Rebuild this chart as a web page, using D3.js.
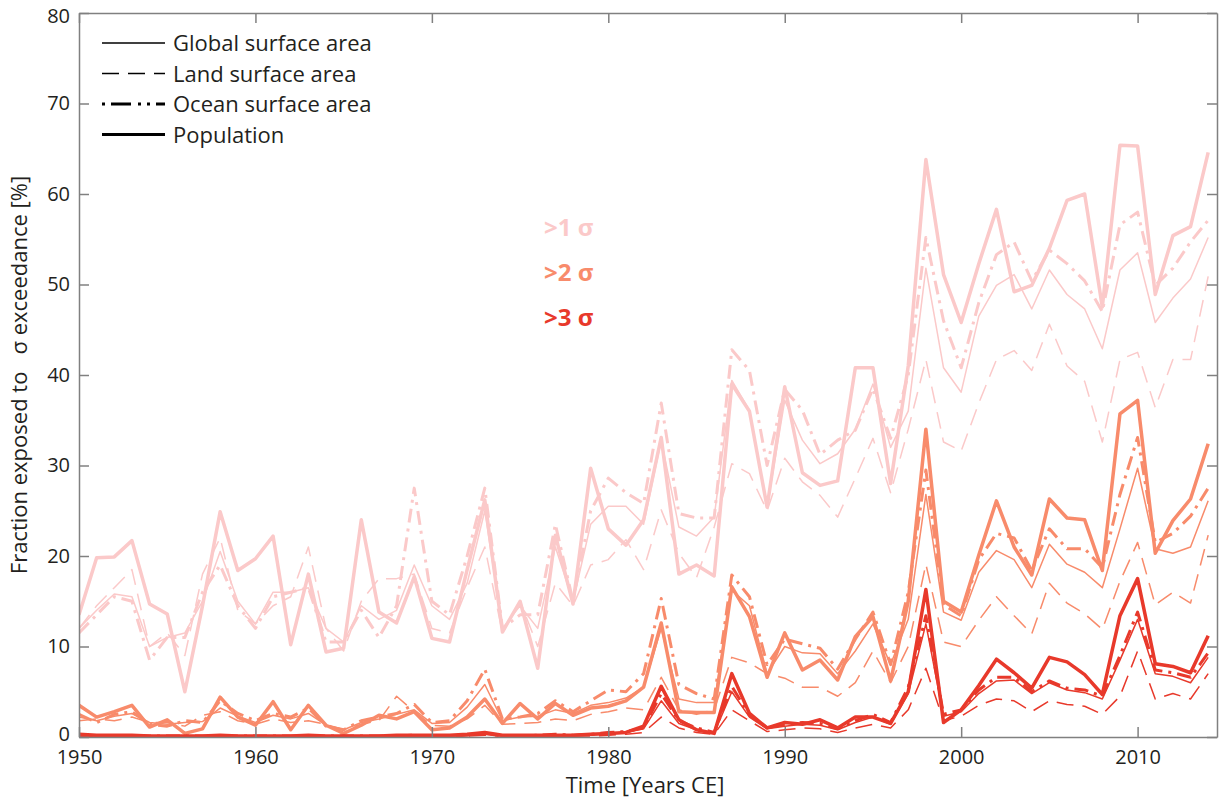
<!DOCTYPE html>
<html>
<head>
<meta charset="utf-8">
<script src="https://cdn.jsdelivr.net/npm/d3@7"></script>
<style>
body { margin: 0; background: #fff; }
text { font-family: "Open Sans", sans-serif; fill: #231f20; }
</style>
</head>
<body>
<svg id="chart" width="1223" height="801"></svg>
<script>
// years on the x axis
var years = d3.range(1950, 2015);
var xTickValues = [1950, 1960, 1970, 1980, 1990, 2000, 2010];
var yTickValues = [0, 10, 20, 30, 40, 50, 60, 70, 80];

var sigmaLabels = ['>1 σ', '>2 σ', '>3 σ'];
var sigmaColors = ['#fbc9c9', '#f88b6b', '#e8392b'];

var legendLabels = ['Global surface area', 'Land surface area', 'Ocean surface area', 'Population'];

// >1 sigma
var global1 = [12.0, 14.0, 15.8, 15.5, 10.0, 11.0, 11.5, 15.0, 20.5, 15.0,
    12.5, 16.0, 16.0, 16.5, 12.0, 10.5, 14.5, 13.0, 14.0, 19.0,
    14.5, 13.0, 17.0, 25.0, 12.0, 14.5, 12.0, 21.0, 15.0, 23.5,
    25.5, 25.5, 23.5, 32.8, 23.2, 22.2, 24.3, 39.4, 36.1, 25.4,
    37.2, 32.8, 30.2, 31.3, 34.0, 39.0, 32.0, 36.0, 51.8, 40.8,
    38.1, 46.5, 49.9, 51.1, 47.3, 51.6, 48.9, 47.3, 42.9, 51.6,
    53.5, 45.8, 48.5, 50.6, 55.2];
var land1 = [12.0, 14.5, 16.5, 18.5, 10.0, 11.5, 9.0, 18.0, 22.0, 14.0,
    12.5, 14.5, 15.5, 21.0, 12.0, 9.5, 15.0, 17.5, 17.5, 18.0,
    12.0, 11.5, 16.5, 21.0, 11.5, 15.0, 10.0, 17.0, 14.5, 19.0,
    19.6, 21.8, 18.5, 25.1, 20.3, 17.6, 23.2, 30.2, 29.1, 25.0,
    30.8, 28.2, 26.7, 24.3, 28.6, 33.0, 27.0, 34.0, 41.7, 32.6,
    31.6, 36.9, 41.7, 42.7, 40.5, 45.6, 41.0, 39.3, 32.6, 41.7,
    42.5, 36.4, 41.7, 41.7, 50.9];
var ocean1 = [11.5, 13.5, 15.5, 15.0, 8.5, 11.0, 11.0, 16.0, 19.0, 14.5,
    12.0, 15.5, 16.0, 16.5, 10.5, 10.5, 14.0, 11.0, 14.5, 27.5,
    15.0, 13.5, 20.0, 27.5, 12.0, 13.5, 13.5, 23.5, 15.0, 25.0,
    28.6, 27.0, 25.8, 36.9, 24.7, 24.2, 24.2, 42.8, 40.5, 30.0,
    38.4, 36.1, 31.2, 32.8, 33.9, 38.5, 33.0, 40.0, 55.2, 46.0,
    40.8, 48.0, 53.3, 54.7, 50.4, 53.8, 52.3, 50.4, 47.0, 56.6,
    58.0, 49.9, 51.8, 54.7, 57.1];
var pop1 = [13.5, 19.8, 19.9, 21.7, 14.7, 13.6, 5.0, 14.5, 24.9, 18.4,
    19.7, 22.2, 10.2, 18.0, 9.4, 9.8, 24.0, 13.8, 12.6, 17.7,
    10.9, 10.5, 18.5, 26.2, 11.6, 15.0, 7.6, 22.3, 14.7, 29.7,
    23.0, 21.2, 24.0, 33.1, 18.0, 19.0, 17.8, 39.0, 36.0, 25.4,
    38.7, 29.2, 27.8, 28.3, 40.8, 40.8, 28.0, 41.0, 63.8, 51.1,
    45.8, 52.3, 58.3, 49.2, 49.9, 54.0, 59.3, 60.0, 47.5, 65.4,
    65.3, 48.9, 55.4, 56.4, 64.6];

// >2 sigma
var global2 = [2.2, 1.8, 2.3, 2.6, 1.6, 1.4, 1.6, 1.7, 3.2, 2.3,
    1.6, 2.4, 2.0, 2.6, 1.3, 0.8, 1.6, 2.0, 2.5, 3.0,
    1.5, 1.6, 3.3, 5.8, 1.8, 2.2, 2.3, 3.0, 2.6, 3.5,
    3.8, 4.3, 5.5, 12.0, 4.2, 3.8, 3.8, 16.2, 14.5, 7.0,
    10.0, 9.3, 9.2, 7.0, 9.5, 12.5, 8.0, 13.0, 26.8, 13.8,
    12.9, 18.2, 20.6, 19.6, 16.5, 21.3, 19.1, 18.2, 16.5, 23.0,
    29.7, 20.8, 20.3, 21.0, 26.1];
var land2 = [1.8, 2.0, 1.8, 2.2, 1.6, 1.6, 1.2, 2.4, 2.8, 1.8,
    1.4, 2.0, 1.6, 1.8, 1.4, 0.8, 1.4, 1.8, 4.5, 2.8,
    1.3, 1.2, 2.0, 3.5, 1.4, 1.5, 1.6, 2.0, 1.8, 2.5,
    2.8, 3.2, 3.0, 6.6, 3.0, 2.5, 3.0, 8.8, 8.2, 7.0,
    6.5, 5.5, 5.5, 4.5, 6.0, 9.5, 6.0, 10.0, 19.1, 10.5,
    10.0, 12.9, 15.5, 13.4, 11.4, 17.0, 14.8, 13.6, 11.9, 17.2,
    21.5, 14.6, 16.0, 14.8, 22.3];
var ocean2 = [2.5, 1.6, 2.5, 2.8, 1.4, 1.2, 1.8, 1.6, 4.0, 2.6,
    1.8, 2.6, 2.2, 3.2, 1.2, 0.8, 1.8, 2.2, 2.6, 3.6,
    1.6, 1.8, 4.0, 7.5, 2.0, 2.2, 2.6, 4.0, 2.8, 4.0,
    5.2, 5.0, 7.0, 15.3, 5.8, 4.8, 4.2, 17.9, 15.5, 8.0,
    10.8, 10.3, 9.8, 7.5, 10.8, 13.8, 8.0, 16.0, 29.5, 14.6,
    13.4, 19.6, 22.5, 22.0, 18.4, 23.0, 20.8, 20.8, 18.7, 26.8,
    33.1, 21.5, 22.5, 24.4, 27.5];
var pop2 = [3.5, 2.2, 2.8, 3.5, 1.1, 1.9, 0.4, 0.9, 4.4, 2.2,
    1.3, 3.9, 0.8, 3.5, 1.3, 0.4, 1.3, 2.4, 2.0, 2.8,
    0.8, 1.0, 2.2, 4.2, 1.5, 3.7, 2.0, 3.7, 2.4, 3.2,
    3.4, 4.0, 5.5, 12.6, 2.8, 2.7, 2.7, 16.6, 13.3, 6.6,
    11.5, 7.4, 8.5, 6.3, 11.1, 13.3, 6.2, 15.0, 34.0, 15.0,
    13.8, 20.1, 26.1, 21.0, 17.9, 26.3, 24.2, 24.0, 18.4, 35.7,
    37.2, 20.3, 23.9, 26.3, 32.4];

// >3 sigma
var global3 = [0.2, 0.1, 0.1, 0.1, 0.1, 0.1, 0.1, 0.1, 0.1, 0.1,
    0.1, 0.1, 0.1, 0.1, 0.1, 0.1, 0.1, 0.1, 0.1, 0.1,
    0.1, 0.1, 0.2, 0.3, 0.1, 0.1, 0.1, 0.2, 0.2, 0.2,
    0.4, 0.5, 0.9, 4.0, 1.5, 0.8, 0.4, 5.0, 2.2, 0.9,
    1.2, 1.4, 1.3, 0.8, 1.6, 2.2, 1.4, 4.8, 12.5, 2.3,
    2.8, 4.8, 6.2, 6.3, 4.8, 6.0, 5.2, 4.9, 4.2, 8.5,
    13.0, 7.0, 6.7, 6.0, 8.8];
var land3 = [0.1, 0.1, 0.1, 0.1, 0.1, 0.1, 0.1, 0.1, 0.1, 0.1,
    0.1, 0.1, 0.1, 0.1, 0.1, 0.1, 0.1, 0.1, 0.1, 0.1,
    0.1, 0.1, 0.1, 0.2, 0.1, 0.1, 0.1, 0.1, 0.1, 0.1,
    0.2, 0.3, 0.5, 2.2, 1.0, 0.5, 0.3, 3.0, 1.8, 0.6,
    0.8, 1.0, 0.9, 0.5, 1.0, 1.4, 1.0, 3.0, 7.6, 1.8,
    2.3, 3.5, 4.2, 4.0, 2.8, 4.0, 3.6, 3.4, 2.5, 4.5,
    9.5, 4.2, 4.8, 4.2, 7.0];
var ocean3 = [0.2, 0.1, 0.1, 0.1, 0.1, 0.1, 0.1, 0.1, 0.1, 0.1,
    0.1, 0.1, 0.1, 0.1, 0.1, 0.1, 0.1, 0.1, 0.1, 0.2,
    0.1, 0.1, 0.2, 0.4, 0.1, 0.1, 0.2, 0.3, 0.2, 0.3,
    0.5, 0.6, 1.0, 4.8, 1.8, 1.0, 0.5, 5.6, 2.4, 1.0,
    1.4, 1.6, 1.5, 0.9, 1.8, 2.5, 1.6, 5.5, 13.4, 2.5,
    3.0, 5.2, 6.6, 6.6, 5.0, 6.2, 5.4, 5.2, 4.5, 9.0,
    13.8, 7.4, 7.1, 6.6, 9.3];
var pop3 = [0.3, 0.2, 0.2, 0.2, 0.1, 0.1, 0.1, 0.1, 0.2, 0.1,
    0.1, 0.1, 0.1, 0.2, 0.1, 0.1, 0.1, 0.1, 0.2, 0.2,
    0.2, 0.2, 0.3, 0.5, 0.2, 0.2, 0.2, 0.2, 0.2, 0.3,
    0.4, 0.5, 1.2, 5.6, 1.9, 0.8, 0.4, 7.0, 2.6, 1.0,
    1.6, 1.4, 1.9, 1.0, 2.2, 2.2, 1.5, 5.0, 16.3, 1.6,
    3.0, 5.7, 8.6, 7.1, 5.4, 8.8, 8.3, 6.9, 4.7, 13.4,
    17.5, 8.1, 7.8, 7.1, 11.2];

// line styles per kind: global, land, ocean, population
var kindStyles = [
    { width: 1.5, dash: null },
    { width: 1.5, dash: '17 9' },
    { width: 3, dash: '14 6 3 6' },
    { width: 3.5, dash: null }
];

var seriesByLevel = [
    [global1, land1, ocean1, pop1],
    [global2, land2, ocean2, pop2],
    [global3, land3, ocean3, pop3]
];

var margin = { left: 79, right: 6, top: 13, bottom: 64 };
var width = 1223, height = 801;
var axisColor = '#808080';

var svg = d3.select('#chart');

var x = d3.scaleLinear().domain([1950, 2014.5]).range([margin.left, width - margin.right]);
var y = d3.scaleLinear().domain([0, 80]).range([height - margin.bottom, margin.top]);

var plotW = width - margin.right - margin.left;
var plotH = height - margin.bottom - margin.top;

svg.append('clipPath').attr('id', 'plotclip')
    .append('rect')
    .attr('x', margin.left).attr('y', margin.top - 2)
    .attr('width', plotW).attr('height', plotH + 4);

var line = d3.line()
    .x(function (d) { return x(d.year); })
    .y(function (d) { return y(d.value); });

var plot = svg.append('g').attr('clip-path', 'url(#plotclip)');

seriesByLevel.forEach(function (group, level) {
    group.forEach(function (values, kind) {
        var pts = years.map(function (yr, i) { return { year: yr, value: values[i] }; });
        var st = kindStyles[kind];
        plot.append('path')
            .datum(pts)
            .attr('d', line)
            .attr('fill', 'none')
            .attr('stroke', sigmaColors[level])
            .attr('stroke-width', st.width)
            .attr('stroke-linejoin', 'round')
            .attr('stroke-dasharray', st.dash);
    });
});

// axes: ticks point inward, box on all sides
function styleAxis(g) {
    g.select('.domain').attr('stroke', axisColor).attr('stroke-width', 1.5);
    g.selectAll('.tick line').attr('stroke', axisColor).attr('stroke-width', 1.5);
    g.selectAll('.tick text')
        .style('font-family', '"Open Sans", sans-serif')
        .style('font-size', '20px')
        .attr('fill', '#231f20');
}

svg.append('g')
    .attr('transform', 'translate(0,' + (height - margin.bottom) + ')')
    .call(d3.axisBottom(x).tickValues(xTickValues).tickFormat(d3.format('d'))
        .tickSizeInner(-10).tickSizeOuter(0).tickPadding(13))
    .call(styleAxis);

svg.append('g')
    .attr('transform', 'translate(0,' + margin.top + ')')
    .call(d3.axisTop(x).tickValues(xTickValues).tickFormat('')
        .tickSizeInner(-10).tickSizeOuter(0))
    .call(styleAxis);

var yAxisG = svg.append('g')
    .attr('transform', 'translate(' + margin.left + ',0)')
    .call(d3.axisLeft(y).tickValues(yTickValues).tickFormat(d3.format('d'))
        .tickSizeInner(-10).tickSizeOuter(0).tickPadding(9))
    .call(styleAxis);
// keep the end labels clear of the edge and of the year labels
yAxisG.selectAll('.tick text').filter(function (d) { return d === 80; }).attr('dy', '0.45em');
yAxisG.selectAll('.tick text').filter(function (d) { return d === 0; }).attr('dy', '0.15em');

svg.append('g')
    .attr('transform', 'translate(' + (width - margin.right) + ',0)')
    .call(d3.axisRight(y).tickValues(yTickValues).tickFormat('')
        .tickSizeInner(-10).tickSizeOuter(0))
    .call(styleAxis);

// axis titles
svg.append('text')
    .attr('x', margin.left + plotW / 2 - 3)
    .attr('y', 793)
    .attr('text-anchor', 'middle')
    .style('font-size', '22px')
    .text('Time [Years CE]');

svg.append('text')
    .attr('transform', 'translate(27,375) rotate(-90)')
    .attr('text-anchor', 'middle')
    .style('font-size', '22px')
    .style('white-space', 'pre')
    .text('Fraction exposed to   σ exceedance [%]');

// sigma level labels
var sigmaG = svg.append('g');
sigmaLabels.forEach(function (lbl, i) {
    sigmaG.append('text')
        .attr('x', 544)
        .attr('y', 236 + i * 45)
        .style('font-size', '24px')
        .style('font-weight', 'bold')
        .style('fill', sigmaColors[i])
        .text(lbl);
});

// legend
var legend = svg.append('g');
legendLabels.forEach(function (lbl, i) {
    var yy = 43 + i * 30.5;
    var st = kindStyles[i];
    legend.append('line')
        .attr('x1', 102).attr('x2', 165)
        .attr('y1', yy).attr('y2', yy)
        .attr('stroke', '#000')
        .attr('stroke-width', i === 0 || i === 1 ? 1.5 : 3)
        .attr('stroke-dasharray', i === 2 ? '3 6 20 7 3 6' : st.dash);
    legend.append('text')
        .attr('x', 173)
        .attr('y', yy + 8)
        .style('font-size', '22px')
        .text(lbl);
});
</script>
</body>
</html>
